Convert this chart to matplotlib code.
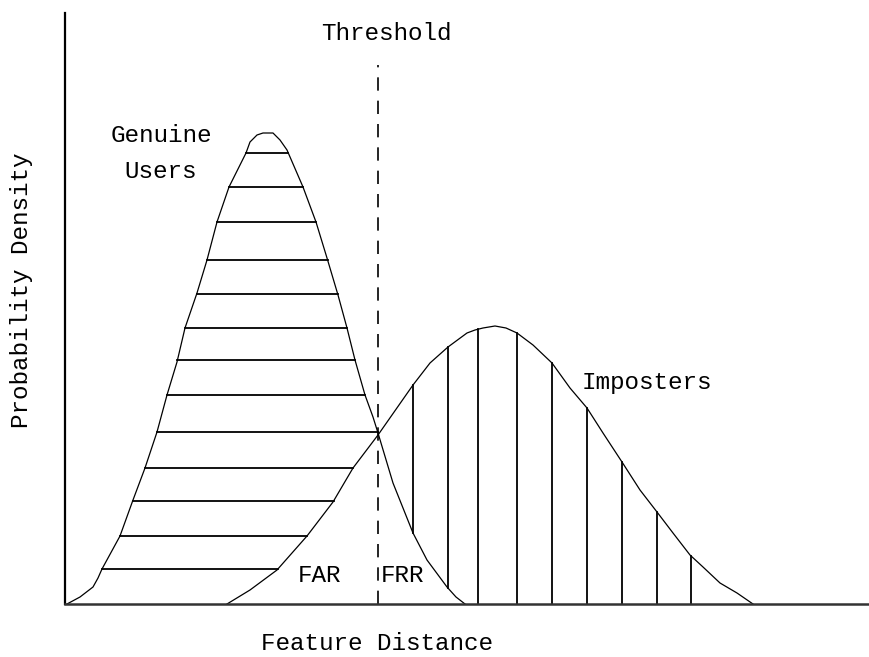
import numpy as np
import matplotlib
matplotlib.use("Agg")
import matplotlib.pyplot as plt

# Genuine users curve (feature distance, density)
genuine_x = [0.02, 0.15, 0.28, 0.33, 0.37, 0.55, 0.68, 0.80, 0.92, 1.02, 1.12, 1.20,
             1.32, 1.42, 1.52, 1.64, 1.81, 1.85, 1.92, 1.98, 2.08, 2.15, 2.22, 2.38,
             2.51, 2.62, 2.73, 2.82, 2.90, 3.00, 3.08, 3.13, 3.28, 3.48, 3.62, 3.82,
             3.91, 4.00]
genuine_y = [0.00, 0.07, 0.17, 0.26, 0.35, 0.68, 1.04, 1.36, 1.72, 2.09, 2.42, 2.76,
             3.11, 3.44, 3.82, 4.17, 4.51, 4.62, 4.69, 4.71, 4.71, 4.64, 4.54, 4.17,
             3.82, 3.46, 3.09, 2.76, 2.44, 2.09, 1.87, 1.71, 1.21, 0.71, 0.44, 0.17,
             0.07, 0.00]

# Imposters curve
imp_x = [1.62, 1.85, 2.12, 2.42, 2.68, 2.88, 3.13, 3.48, 3.65, 3.83, 4.02, 4.10, 4.18,
         4.30, 4.41, 4.52, 4.68, 4.87, 5.05, 5.22, 5.38, 5.57, 5.75, 5.92, 6.08, 6.25,
         6.38, 6.55, 6.72, 6.88]
imp_y = [0.00, 0.14, 0.34, 0.68, 1.02, 1.36, 1.69, 2.19, 2.41, 2.57, 2.71, 2.74, 2.76,
         2.78, 2.76, 2.71, 2.59, 2.41, 2.16, 1.96, 1.71, 1.42, 1.14, 0.92, 0.71, 0.49,
         0.37, 0.21, 0.11, 0.00]

threshold_x = 3.13
threshold_top = 5.39

# hatch positions
hatch_levels = [4.51, 4.17, 3.82, 3.44, 3.10, 2.76, 2.44, 2.09, 1.72, 1.36, 1.03, 0.68, 0.35]
vert_x = [3.48, 3.83, 4.13, 4.52, 4.87, 5.22, 5.57, 5.92, 6.26]

FONT = ["Liberation Mono", "DejaVu Sans Mono"]
FS = 17.5

fig = plt.figure(figsize=(8.7, 6.57), dpi=100)
ax = fig.add_axes([65/870, 53/657, 805/870, 591/657])
ax.set_xlim(0, 8.05)
ax.set_ylim(0, 5.91)

gx = np.array(genuine_x); gy = np.array(genuine_y)
ix = np.array(imp_x); iy = np.array(imp_y)

ax.plot(gx, gy, color="black", lw=0.9)
ax.plot(ix, iy, color="black", lw=0.9)

gp = int(np.argmax(gy))
ip = int(np.argmax(iy))
for lev in hatch_levels:
    xl = np.interp(lev, gy[:gp + 1], gx[:gp + 1])
    xr_g = np.interp(lev, gy[gp:][::-1], gx[gp:][::-1])
    xr_i = np.interp(lev, iy[:ip + 1], ix[:ip + 1])
    xr = min(xr_g, xr_i)
    ax.plot([xl, xr], [lev, lev], color="black", lw=1.3)

for vx in vert_x:
    bot = np.interp(vx, gx, gy, right=0.0)
    top = np.interp(vx, ix, iy)
    ax.plot([vx, vx], [bot, top], color="black", lw=1.3)

ax.plot([threshold_x, threshold_x], [0, threshold_top], color="black", lw=1.2,
        dashes=(8, 6))

for s in ["top", "right"]:
    ax.spines[s].set_visible(False)
ax.spines["left"].set_linewidth(1.6)
ax.spines["bottom"].set_linewidth(1.8)
ax.spines["bottom"].set_color("#333333")
ax.set_xticks([]); ax.set_yticks([])

ax.text(3.21, 5.71, "Threshold", ha="center", va="center", family=FONT, fontsize=FS)
ax.text(0.96, 4.69, "Genuine", ha="center", va="center", family=FONT, fontsize=FS)
ax.text(0.96, 4.32, "Users", ha="center", va="center", family=FONT, fontsize=FS)
ax.text(5.17, 2.21, "Imposters", ha="left", va="center", family=FONT, fontsize=FS)
ax.text(2.55, 0.28, "FAR", ha="center", va="center", family=FONT, fontsize=FS)
ax.text(3.38, 0.28, "FRR", ha="center", va="center", family=FONT, fontsize=FS)

fig.text(377/870, 1 - 643/657, "Feature Distance", ha="center", va="center",
         family=FONT, fontsize=FS)
fig.text(22/870, 1 - 290/657, "Probability Density", ha="center", va="center",
         rotation=90, family=FONT, fontsize=FS)

fig.savefig("out.png", dpi=100)
